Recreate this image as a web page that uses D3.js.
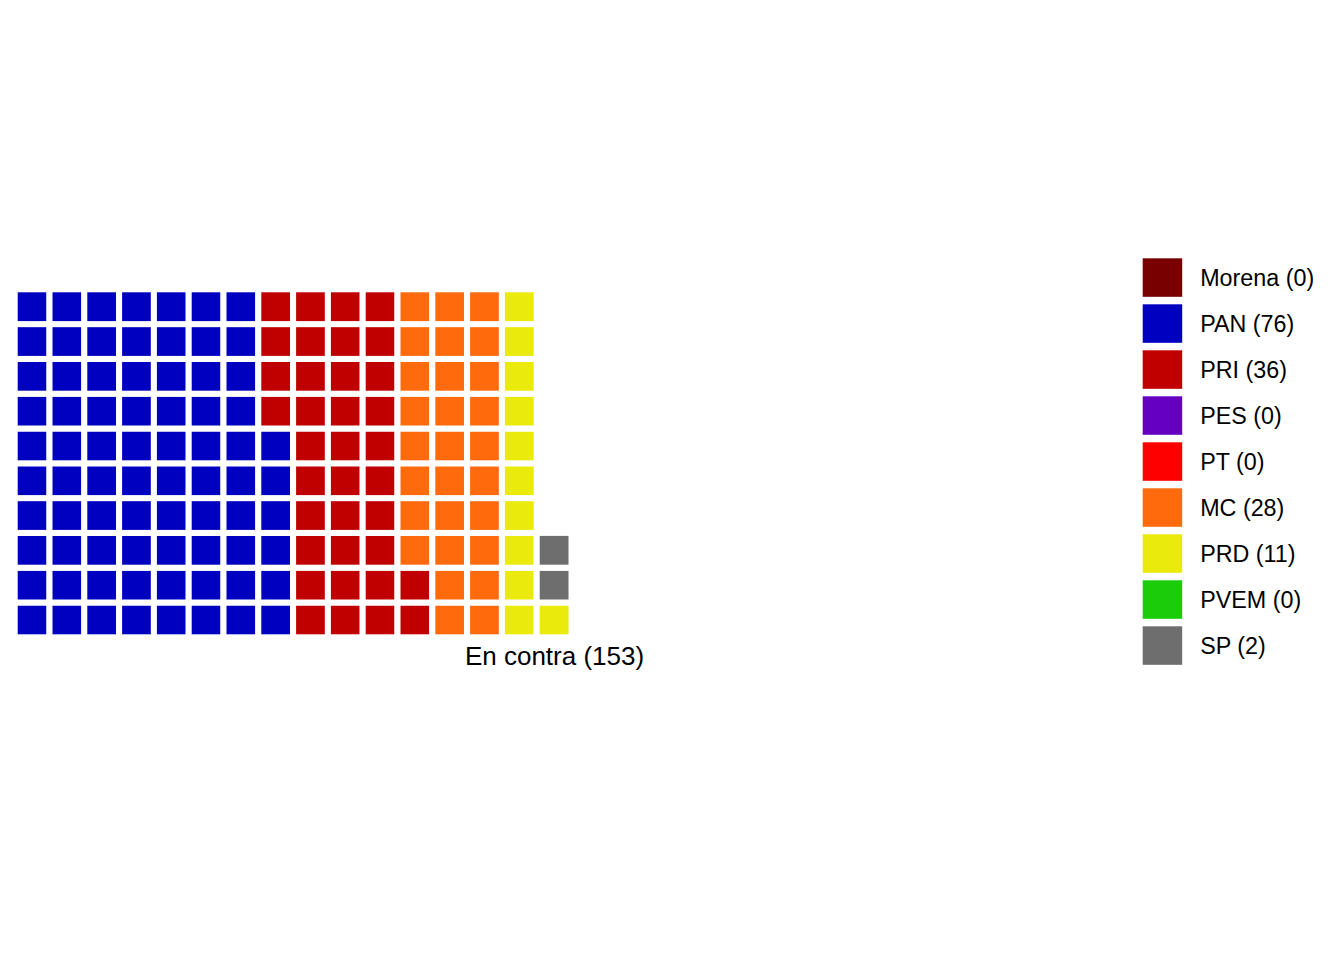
<!DOCTYPE html>
<html>
<head>
<meta charset="utf-8">
<script src="https://cdn.jsdelivr.net/npm/d3@7"></script>
<style>
  body { margin: 0; background: #fff; }
  text { font-family: "Liberation Sans", Arial, sans-serif; fill: #000; }
</style>
</head>
<body>
<div id="chart"></div>
<script>
// party data, in legend / fill order
var parties = ["Morena", "PAN", "PRI", "PES", "PT", "MC", "PRD", "PVEM", "SP"];
var votes = [0, 76, 36, 0, 0, 28, 11, 0, 2];
var colors = ["#780000", "#0000c0", "#c00000", "#6600c0", "#ff0000", "#ff6a0d", "#eaea0d", "#1acc0a", "#6e6e6e"];
var rowsPerCol = 10;
var total = d3.sum(votes);
var axisLabel = "En contra (" + total + ")";

var width = 1344, height = 960;
var svg = d3.select("#chart").append("svg")
  .attr("width", width)
  .attr("height", height);

// fill waffle cells column by column, bottom to top
var cells = [];
var k = 0;
parties.forEach(function (p, i) {
  for (var j = 0; j < votes[i]; j++) {
    cells.push({ party: p, color: colors[i], col: Math.floor(k / rowsPerCol), row: k % rowsPerCol });
    k++;
  }
});
var nCols = Math.ceil(total / rowsPerCol);

var pitch = 34.8;
var x = d3.scaleLinear().domain([0, nCols]).range([14.7, 14.7 + pitch * nCols]);
var y = d3.scaleLinear().domain([0, rowsPerCol]).range([289.3 + pitch * rowsPerCol, 289.3]);

svg.append("g").selectAll("rect")
  .data(cells)
  .enter()
  .append("rect")
  .attr("x", function (d) { return x(d.col); })
  .attr("y", function (d) { return y(d.row + 1); })
  .attr("width", function (d) { return x(d.col + 1) - x(d.col); })
  .attr("height", function (d) { return y(d.row) - y(d.row + 1); })
  .style("fill", function (d) { return d.color; })
  .style("stroke", "#fff")
  .style("stroke-width", 6);

svg.append("text")
  .attr("x", 554.5)
  .attr("y", 664.5)
  .attr("text-anchor", "middle")
  .style("font-size", "26px")
  .text(axisLabel);

// legend
var legY = d3.scaleBand().domain(parties).range([258.3, 258.3 + 46 * parties.length]);

var legend = svg.append("g").selectAll("g")
  .data(parties)
  .enter()
  .append("g")
  .attr("transform", function (d) { return "translate(1142.7," + legY(d) + ")"; });

legend.append("rect")
  .attr("width", 39.5)
  .attr("height", 38.5)
  .style("fill", function (d, i) { return colors[i]; });

legend.append("text")
  .attr("x", 57.5)
  .attr("y", 19.5)
  .attr("dy", "0.35em")
  .style("font-size", "23.3px")
  .text(function (d, i) { return d + " (" + votes[i] + ")"; });
</script>
</body>
</html>
